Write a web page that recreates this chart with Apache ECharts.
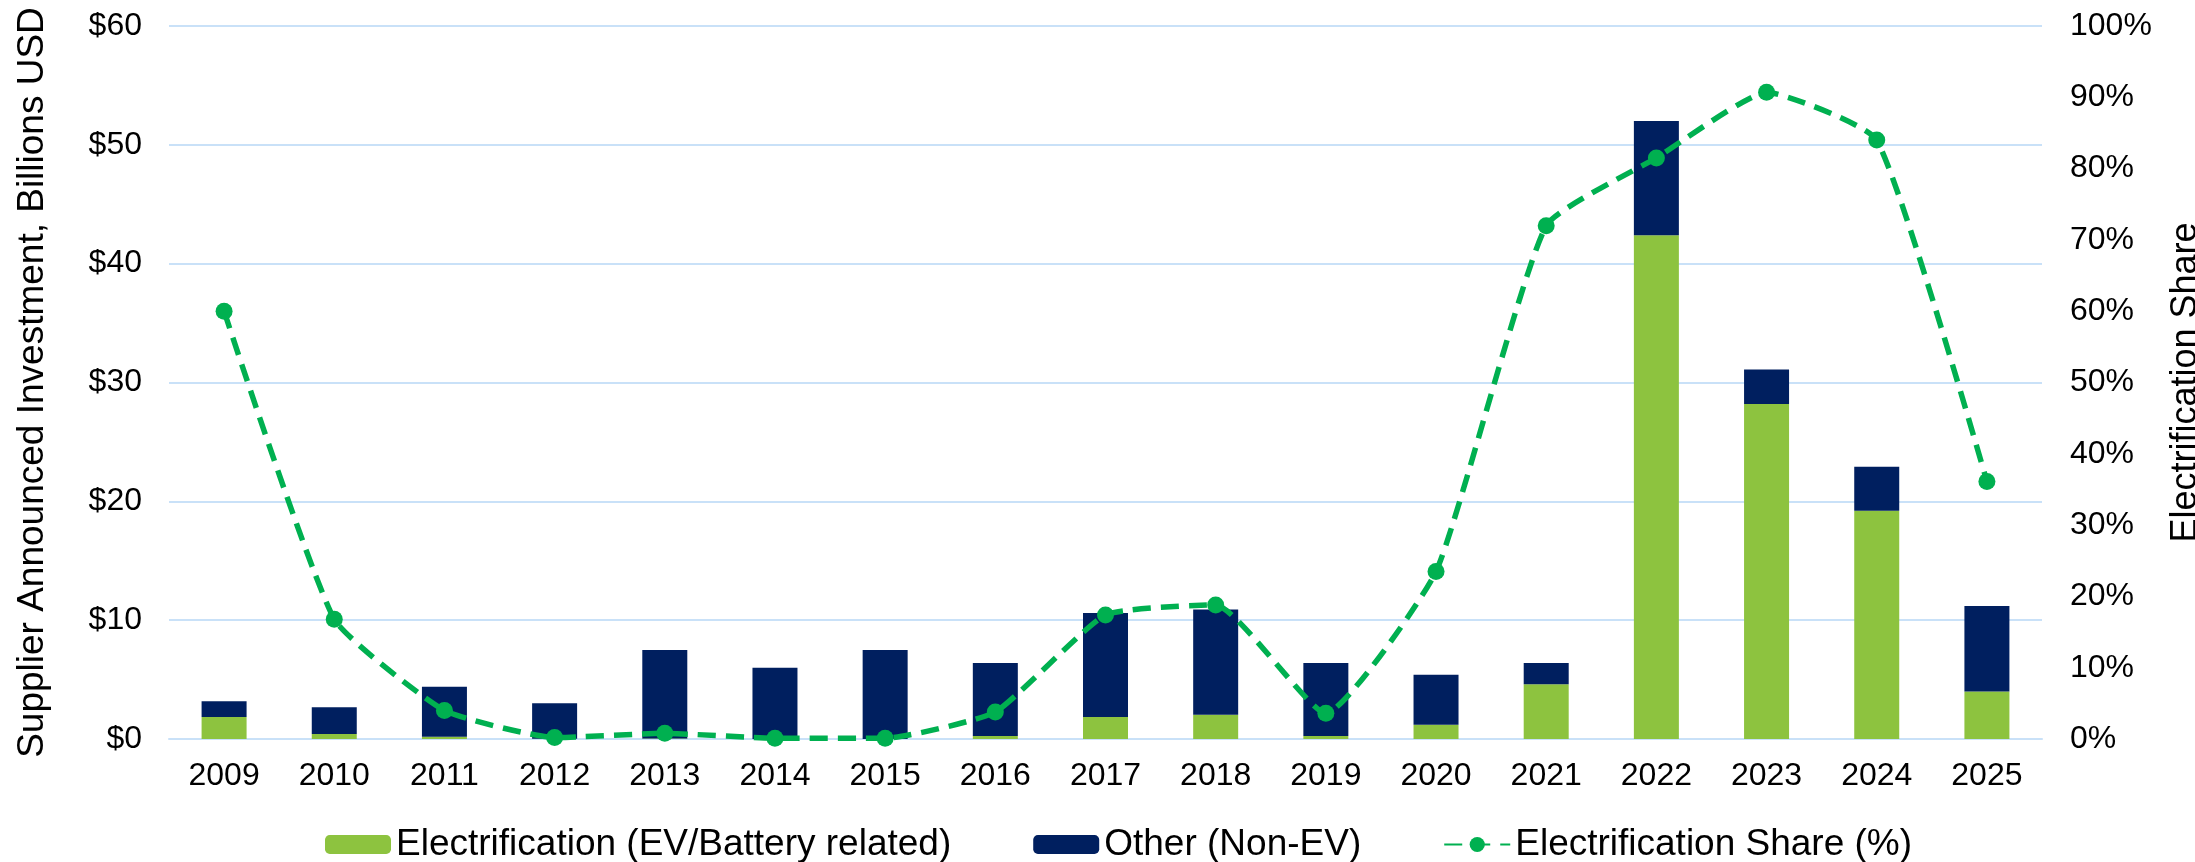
<!DOCTYPE html>
<html>
<head>
<meta charset="utf-8">
<script src="https://cdn.jsdelivr.net/npm/echarts@6/dist/echarts.min.js"></script>
<style>
  html, body { margin: 0; padding: 0; background: #fff; }
  #chart { width: 2195px; height: 862px; }
</style>
</head>
<body>
<div id="chart"></div>
<script>
const years = ["2009", "2010", "2011", "2012", "2013", "2014", "2015", "2016", "2017",
  "2018", "2019", "2020", "2021", "2022", "2023", "2024", "2025"];
// billions USD
const electrification = [1.85, 0.42, 0.18, 0.02, 0.05, 0.01, 0.0, 0.25, 1.85,
  2.05, 0.25, 1.2, 4.6, 42.4, 28.2, 19.2, 4.0];
const other = [1.32, 2.25, 4.22, 2.98, 7.45, 5.99, 7.5, 6.15, 8.75,
  8.85, 6.15, 4.2, 1.8, 9.6, 2.9, 3.7, 7.2];
// percent
const share = [60, 16.8, 4.0, 0.2, 0.8, 0.1, 0.1, 3.8, 17.4,
  18.8, 3.6, 23.5, 72, 81.5, 90.7, 84, 36.1];

const font = "'Liberation Sans', Arial, sans-serif";
const gridColor = "#C9E1F8";

const chart = echarts.init(document.getElementById("chart"));
chart.setOption({
  animation: false,
  textStyle: { fontFamily: font },
  grid: { left: 169, right: 153, top: 26, bottom: 123, outerBoundsMode: "none", containLabel: false },
  legend: {
    left: 320,
    top: 821,
    itemWidth: 66,
    itemHeight: 19,
    itemGap: 82,
    textStyle: { fontSize: 37, color: "#000", fontFamily: font },
    data: ["Electrification (EV/Battery related)", "Other (Non-EV)", "Electrification Share (%)"],
  },
  xAxis: {
    type: "category",
    data: years,
    axisTick: { show: false },
    axisLine: { lineStyle: { color: gridColor, width: 2 } },
    axisLabel: { fontSize: 32, color: "#000", margin: 21 },
  },
  yAxis: [
    {
      type: "value",
      min: 0,
      max: 60,
      interval: 10,
      name: "Supplier Announced Investment, Billions USD",
      nameLocation: "middle",
      nameRotate: 90,
      nameGap: 118,
      nameTextStyle: { fontSize: 37, color: "#000" },
      axisLabel: { fontSize: 32, color: "#000", margin: 27, formatter: "${value}" },
      axisLine: { show: false },
      axisTick: { show: false },
      splitLine: { lineStyle: { color: gridColor, width: 2 } },
    },
    {
      type: "value",
      min: 0,
      max: 100,
      interval: 10,
      name: "Electrification Share",
      nameLocation: "middle",
      nameRotate: 90,
      nameGap: 126,
      nameTextStyle: { fontSize: 36, color: "#000" },
      axisLabel: { fontSize: 32, color: "#000", margin: 28, formatter: "{value}%" },
      axisLine: { show: false },
      axisTick: { show: false },
      splitLine: { show: false },
    },
  ],
  series: [
    {
      name: "Electrification (EV/Battery related)",
      type: "bar",
      stack: "inv",
      barWidth: 45,
      data: electrification,
      itemStyle: { color: "#8DC33F" },
    },
    {
      name: "Other (Non-EV)",
      type: "bar",
      stack: "inv",
      barWidth: 45,
      data: other,
      itemStyle: { color: "#001F5F" },
    },
    {
      name: "Electrification Share (%)",
      type: "line",
      yAxisIndex: 1,
      data: share,
      smooth: 0.15,
      symbol: "circle",
      symbolSize: 17,
      itemStyle: { color: "#00B050" },
      lineStyle: { color: "#00B050", width: 5.5, type: [18, 10] },
    },
  ],
});

window.addEventListener("resize", () => {
  chart.resize();
});
</script>
</body>
</html>
